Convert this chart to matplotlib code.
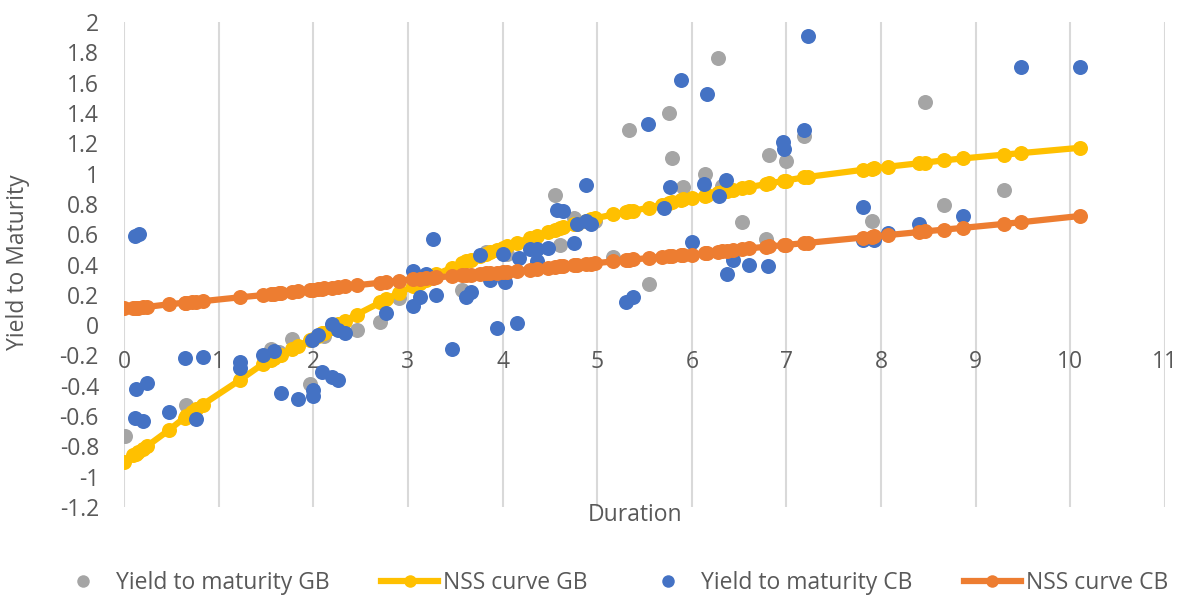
import matplotlib
matplotlib.use("Agg")
import matplotlib.pyplot as plt
from matplotlib.lines import Line2D

plt.rcParams['font.family'] = ['Open Sans', 'DejaVu Sans']

# ---- data ----
gb_x = [0.01, 0.66, 0.72, 1.55, 1.64, 1.78, 1.97, 2.11, 2.46, 2.71, 2.91, 3.57, 3.82, 4.05,
        4.55, 4.61, 4.75, 4.98, 5.17, 5.34, 5.55, 5.76, 5.79, 5.91, 6.14, 6.28, 6.32, 6.53,
        6.78, 6.82, 6.99, 7.19, 7.9, 8.46, 8.66, 9.3]
gb_y = [-0.73, -0.53, -0.56, -0.16, -0.18, -0.09, -0.39, -0.07, -0.03, 0.02, 0.18, 0.23, 0.48, 0.47,
        0.86, 0.53, 0.71, 0.69, 0.45, 1.29, 0.27, 1.40, 1.10, 0.91, 1.0, 1.76, 0.92, 0.68,
        0.57, 1.12, 1.08, 1.25, 0.69, 1.47, 0.79, 0.89]

cb_x = [0.12, 0.16, 0.13, 0.24, 0.12, 0.2, 0.48, 0.64, 0.83, 0.76, 1.23, 1.23, 1.47, 1.58,
        1.66, 1.84, 2.0, 2.0, 1.99, 2.05, 2.09, 2.2, 2.26, 2.2, 2.26, 2.34, 2.77, 3.05,
        3.05, 3.13, 3.19, 3.3, 3.27, 3.47, 3.61, 3.67, 3.76, 3.87, 3.94, 4.0, 4.03, 4.15,
        4.17, 4.29, 4.36, 4.36, 4.48, 4.58, 4.64, 4.75, 4.79, 4.88, 4.93, 4.88, 5.3, 5.38,
        5.54, 5.89, 6.16, 7.23, 5.77, 5.71, 6.13, 6.36, 6.29, 6.0, 6.44, 6.37, 6.6, 6.8,
        6.96, 6.97, 7.19, 7.81, 7.81, 7.92, 8.07, 8.4, 8.87, 9.48, 10.1]
cb_y = [0.59, 0.60, -0.42, -0.38, -0.61, -0.63, -0.57, -0.22, -0.21, -0.62, -0.24, -0.28, -0.2, -0.17,
        -0.45, -0.49, -0.43, -0.47, -0.1, -0.065, -0.31, -0.345, -0.36, 0.005, -0.03, -0.05, 0.08, 0.36,
        0.125, 0.185, 0.34, 0.2, 0.57, -0.16, 0.185, 0.22, 0.46, 0.3, -0.02, 0.47, 0.285, 0.013,
        0.44, 0.5, 0.5, 0.42, 0.51, 0.76, 0.75, 0.54, 0.67, 0.69, 0.67, 0.925, 0.15, 0.185,
        1.33, 1.62, 1.525, 1.91, 0.91, 0.77, 0.93, 0.96, 0.85, 0.55, 0.43, 0.34, 0.4, 0.39,
        1.21, 1.16, 1.29, 0.78, 0.56, 0.56, 0.61, 0.665, 0.72, 1.70, 1.70]

nss_x = [0.0, 0.1, 0.13, 0.15, 0.2, 0.24, 0.48, 0.64, 0.66, 0.72, 0.76, 0.83, 1.23, 1.47, 1.55,
         1.58, 1.64, 1.66, 1.78, 1.84, 1.97, 2.0, 2.05, 2.09, 2.11, 2.2, 2.26, 2.34, 2.46, 2.71,
         2.77, 2.91, 3.05, 3.13, 3.19, 3.27, 3.3, 3.47, 3.57, 3.61, 3.67, 3.76, 3.82, 3.87, 3.94,
         4.0, 4.05, 4.15, 4.29, 4.36, 4.48, 4.55, 4.61, 4.64, 4.75, 4.79, 4.88, 4.93, 4.98, 5.17,
         5.3, 5.34, 5.38, 5.55, 5.68, 5.76, 5.79, 5.89, 5.91, 6.0, 6.14, 6.16, 6.28, 6.32, 6.37,
         6.44, 6.53, 6.6, 6.78, 6.82, 6.97, 6.99, 7.19, 7.23, 7.81, 7.9, 7.92, 8.07, 8.4, 8.46,
         8.66, 8.87, 9.3, 9.48, 10.1]
nss_gb_y = [-0.90, -0.86, -0.85, -0.84, -0.82, -0.80, -0.69, -0.61, -0.60, -0.575, -0.555, -0.525, -0.36, -0.255, -0.23,
            -0.22, -0.20, -0.195, -0.155, -0.135, -0.10, -0.09, -0.07, -0.055, -0.05, -0.02, 0.005, 0.03, 0.07, 0.15,
            0.17, 0.215, 0.255, 0.28, 0.30, 0.325, 0.335, 0.38, 0.41, 0.42, 0.43, 0.455, 0.47, 0.48, 0.495,
            0.51, 0.52, 0.545, 0.575, 0.59, 0.615, 0.63, 0.64, 0.645, 0.665, 0.67, 0.69, 0.70, 0.705, 0.73,
            0.745, 0.75, 0.755, 0.775, 0.795, 0.805, 0.81, 0.825, 0.83, 0.84, 0.855, 0.86, 0.875, 0.88, 0.885,
            0.893, 0.903, 0.91, 0.93, 0.935, 0.952, 0.954, 0.975, 0.978, 1.025, 1.032, 1.034, 1.045, 1.068, 1.072,
            1.087, 1.10, 1.125, 1.135, 1.17]
nss_cb_y = [0.110, 0.113, 0.115, 0.116, 0.118, 0.12, 0.138, 0.148, 0.149, 0.152, 0.155, 0.158, 0.184, 0.198, 0.203,
            0.205, 0.209, 0.21, 0.219, 0.223, 0.233, 0.235, 0.238, 0.241, 0.242, 0.247, 0.251, 0.256, 0.263, 0.28,
            0.284, 0.294, 0.303, 0.307, 0.31, 0.314, 0.315, 0.323, 0.328, 0.33, 0.333, 0.338, 0.341, 0.344, 0.347,
            0.35, 0.353, 0.359, 0.367, 0.372, 0.379, 0.383, 0.387, 0.388, 0.395, 0.397, 0.403, 0.406, 0.409, 0.42,
            0.428, 0.43, 0.433, 0.443, 0.45, 0.454, 0.456, 0.46, 0.461, 0.465, 0.475, 0.476, 0.485, 0.488, 0.491,
            0.496, 0.502, 0.506, 0.517, 0.519, 0.528, 0.529, 0.541, 0.543, 0.578, 0.584, 0.585, 0.594, 0.614, 0.618,
            0.63, 0.642, 0.668, 0.679, 0.72]

x_ticks = list(range(0, 12))
y_ticks = [-1.2, -1, -0.8, -0.6, -0.4, -0.2, 0, 0.2, 0.4, 0.6, 0.8, 1, 1.2, 1.4, 1.6, 1.8, 2]
y_tick_labels = ['-1.2', '-1', '-0.8', '-0.6', '-0.4', '-0.2', '0', '0.2', '0.4', '0.6', '0.8',
                 '1', '1.2', '1.4', '1.6', '1.8', '2']

C_GRAY = '#A5A5A5'
C_YEL = '#FFC000'
C_BLUE = '#4472C4'
C_ORG = '#ED7D31'
TXT = '#595959'

fig = plt.figure(figsize=(11.79, 5.95), dpi=100)
ax = fig.add_axes([124/1179, 1-507/595, (1165-124)/1179, (507-22)/595])

ms = 10.8
ax.plot(gb_x, gb_y, 'o', color=C_GRAY, ms=ms, mew=0, zorder=3, label='Yield to maturity GB')
ax.plot(nss_x, nss_gb_y, '-o', color=C_YEL, ms=ms, mew=0, lw=4.5, zorder=4, label='NSS curve GB')
ax.plot(cb_x, cb_y, 'o', color=C_BLUE, ms=ms, mew=0, zorder=5, label='Yield to maturity CB')
ax.plot(nss_x, nss_cb_y, '-o', color=C_ORG, ms=ms, mew=0, lw=4.5, zorder=6, label='NSS curve CB')

ax.set_xlim(0, 11)
ax.set_ylim(-1.2, 2)
ax.set_xticks(x_ticks)
ax.set_yticks(y_ticks)
ax.set_yticklabels(y_tick_labels)
ax.xaxis.grid(True, color='#D9D9D9', lw=1.5, zorder=0)
ax.yaxis.grid(False)
for s in ax.spines.values():
    s.set_visible(False)
ax.spines['bottom'].set_position(('data', 0))
ax.tick_params(axis='both', length=0, labelsize=16.5, labelcolor=TXT)
ax.tick_params(axis='x', pad=18)
ax.tick_params(axis='y', pad=18)

fig.text(18/1179, 1-262/595, 'Yield to Maturity', rotation=90, ha='center', va='center',
         fontsize=16.5, color=TXT)
fig.text(635/1179, 1-515/595, 'Duration', ha='center', va='center', fontsize=16.5, color=TXT)

handles = [
    Line2D([], [], marker='o', ls='none', color=C_GRAY, ms=9, mew=0),
    Line2D([], [], marker='o', ls='-', color=C_YEL, ms=9, mew=0, lw=4.5),
    Line2D([], [], marker='o', ls='none', color=C_BLUE, ms=9, mew=0),
    Line2D([], [], marker='o', ls='-', color=C_ORG, ms=9, mew=0, lw=4.5),
]
labels = ['Yield to maturity GB', 'NSS curve GB', 'Yield to maturity CB', 'NSS curve CB']
leg = fig.legend(handles, labels, loc='center', bbox_to_anchor=(611/1179, 1-583/595), ncol=4,
                 frameon=False, fontsize=16.5, labelcolor=TXT, handlelength=2.5,
                 handletextpad=0.2, columnspacing=2.25)

fig.savefig('out.png', dpi=100)
